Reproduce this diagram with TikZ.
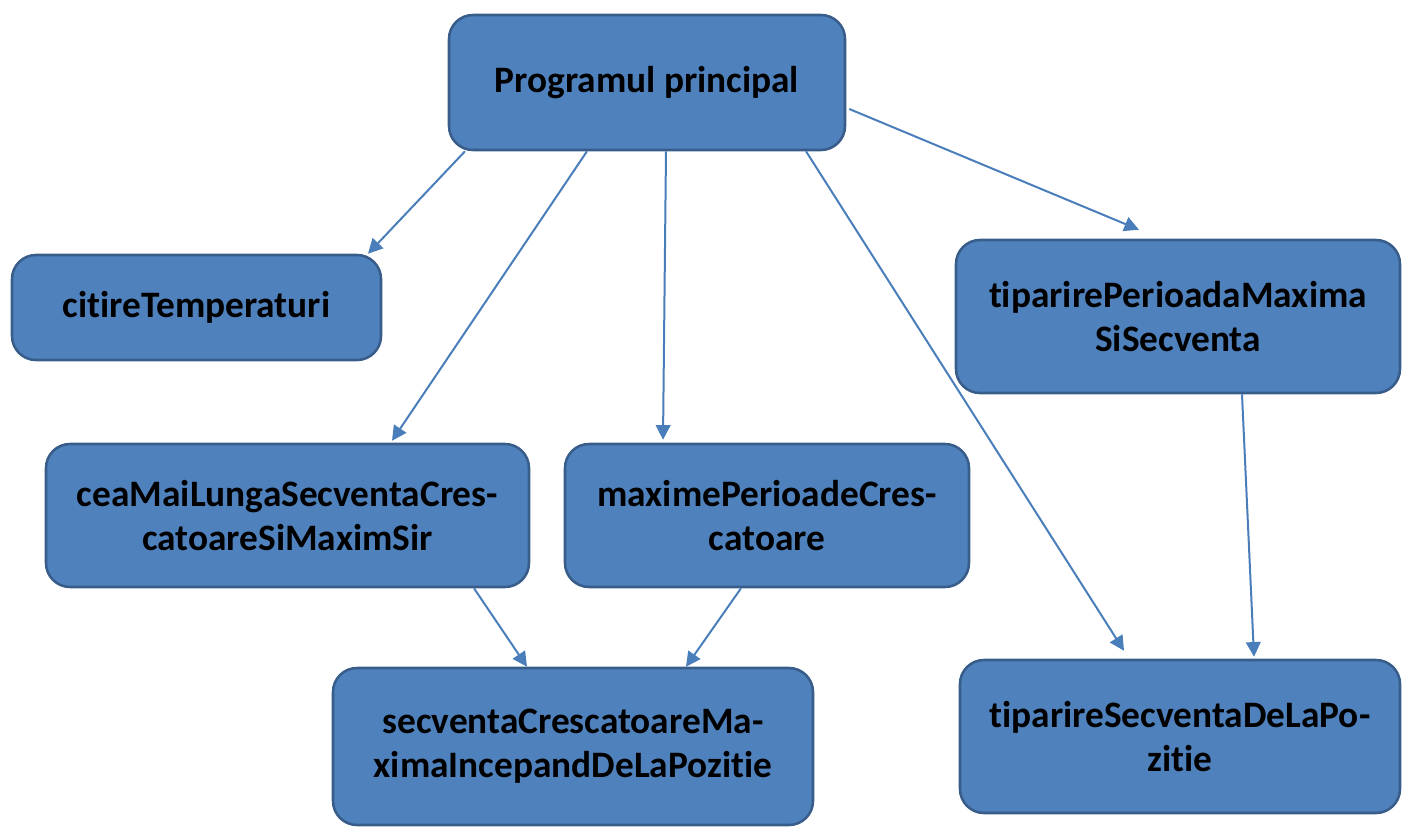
\documentclass[tikz,border=0pt]{standalone}
\usepackage{fontspec}
\setmainfont{Carlito}[Ligatures={NoCommon}]
\usetikzlibrary{calc,arrows.meta}
\definecolor{boxfill}{HTML}{4F81BD}
\definecolor{boxborder}{HTML}{385D8A}
\definecolor{arrowcol}{HTML}{4A7EBB}
\tikzset{
  box/.style={draw=boxborder, fill=boxfill, line width=1.9pt, rounded corners=18pt,
    font=\bfseries\fontsize{28}{33}\selectfont, align=center, inner sep=0pt},
  conn/.style={draw=arrowcol, line width=1.5pt, -{Triangle[length=11pt,width=11pt]}}
}
\begin{document}
\begin{tikzpicture}[x=0.75pt,y=-0.75pt]
\useasboundingbox (0,0) rectangle (1403,826);
\node[box, minimum width=297pt, minimum height=101.25pt] (main) at (647,82.5) {Programul principal};
\node[box, minimum width=276.75pt, minimum height=78.75pt] (cit) at (196.5,307.5) {citireTemperaturi};
\node[box, minimum width=333pt, minimum height=114.75pt] (tpm) at (1178,316.5) {tiparirePerioadaMaxima\\SiSecventa};
\node[box, minimum width=362.25pt, minimum height=107.25pt] (cea) at (287.5,515.5) {ceaMaiLungaSecventaCres-\\catoareSiMaximSir};
\node[box, minimum width=303pt, minimum height=107.25pt] (max) at (767,515.5) {maximePerioadeCres-\\catoare};
\node[box, minimum width=360pt, minimum height=117.75pt] (sec) at (573,746.5) {secventaCrescatoareMa-\\ximaIncepandDeLaPozitie};
\node[box, minimum width=330pt, minimum height=114.75pt] (tsp) at (1180,736.5) {tiparireSecventaDeLaPo-\\zitie};

\draw[conn] ($(main.south)+(-182,0)$) -- ($(cit.north)+(171.5,0)$);
\draw[conn] ($(main.south)+(-60,0)$) -- ($(cea.north)+(104.5,-2)$);
\draw[conn] ($(main.south)+(19,0)$) -- ($(max.north)+(-104,-3)$);
\draw[conn] ($(main.south)+(159,0)$) -- ($(tsp.north)+(-56,-8)$);
\draw[conn] ($(main.east)+(3,26.5)$) -- ($(tpm.north)+(-39,-9)$);
\draw[conn] ($(tpm.south)+(64,0)$) -- ($(tsp.north)+(74,-2)$);
\draw[conn] ($(cea.south)+(186.5,0)$) -- ($(sec.north)+(-46,0)$);
\draw[conn] ($(max.south)+(-26,0)$) -- ($(sec.north)+(113,0)$);
\end{tikzpicture}
\end{document}
